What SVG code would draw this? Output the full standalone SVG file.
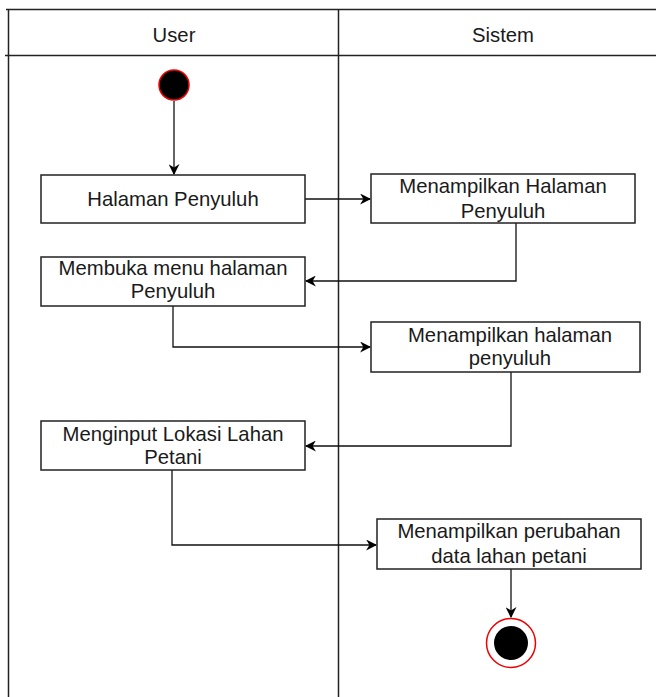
<svg xmlns="http://www.w3.org/2000/svg" width="656" height="697" viewBox="0 0 656 697">
  <defs>
    <marker id="arrow" viewBox="0 0 10 10" refX="9" refY="5" markerWidth="11" markerHeight="11" markerUnits="userSpaceOnUse" orient="auto">
      <path d="M0,0 L10,5 L0,10 L3,5 Z" fill="#000"/>
    </marker>
  </defs>
  <style>
    .lane { fill: none; stroke: #222; stroke-width: 1.5; }
    .box { fill: #fff; stroke: #222; stroke-width: 1.5; }
    .edge { fill: none; stroke: #111; stroke-width: 1.3; marker-end: url(#arrow); }
    .t { font-family: "Liberation Sans", Arial, sans-serif; font-size: 20.3px; fill: #1a1a1a; text-anchor: middle; }
  </style>
  <rect width="656" height="697" fill="#fff"/>

  <!-- swimlanes -->
  <g id="lanes">
    <line class="lane" x1="6" y1="9.5" x2="656" y2="9.5"/>
    <line class="lane" x1="5" y1="55.5" x2="656" y2="55.5"/>
    <line class="lane" x1="8.5" y1="9" x2="8.5" y2="697"/>
    <line class="lane" x1="338.5" y1="9" x2="338.5" y2="697"/>
    <text class="t" x="174" y="42">User</text>
    <text class="t" x="503" y="42">Sistem</text>
  </g>

  <!-- connectors -->
  <g id="connectors">
    <path class="edge" d="M174,101 V174"/>
    <path class="edge" d="M305,199 H370"/>
    <path class="edge" d="M516,223 V281 H306"/>
    <path class="edge" d="M173,306 V347 H370"/>
    <path class="edge" d="M511,372 V446 H306"/>
    <path class="edge" d="M172,470 V545 H376"/>
    <path class="edge" d="M511,569 V617"/>
  </g>

  <g id="start">
    <circle cx="174" cy="85" r="15" fill="#000" stroke="#e00" stroke-width="1.5"/>
  </g>

  <g id="n1">
    <rect class="box" x="41" y="175" width="264" height="48"/>
    <text class="t" x="173" y="206">Halaman Penyuluh</text>
  </g>
  <g id="n2">
    <rect class="box" x="371" y="174" width="264" height="49"/>
    <text class="t" x="503" y="193">Menampilkan Halaman</text>
    <text class="t" x="503" y="218">Penyuluh</text>
  </g>
  <g id="n3">
    <rect class="box" x="41" y="257" width="264" height="49"/>
    <text class="t" x="173" y="275">Membuka menu halaman</text>
    <text class="t" x="173" y="298">Penyuluh</text>
  </g>
  <g id="n4">
    <rect class="box" x="371" y="322" width="269" height="50"/>
    <text class="t" x="510" y="342">Menampilkan halaman</text>
    <text class="t" x="510" y="365">penyuluh</text>
  </g>
  <g id="n5">
    <rect class="box" x="41" y="421" width="264" height="49"/>
    <text class="t" x="173" y="441">Menginput Lokasi Lahan</text>
    <text class="t" x="173" y="464">Petani</text>
  </g>
  <g id="n6">
    <rect class="box" x="377" y="519" width="264" height="50"/>
    <text class="t" x="509" y="538">Menampilkan perubahan</text>
    <text class="t" x="509" y="563">data lahan petani</text>
  </g>

  <g id="end">
    <circle cx="511" cy="643" r="24.5" fill="#fff" stroke="#e00" stroke-width="1.5"/>
    <circle cx="511" cy="643" r="17" fill="#000"/>
  </g>
</svg>
